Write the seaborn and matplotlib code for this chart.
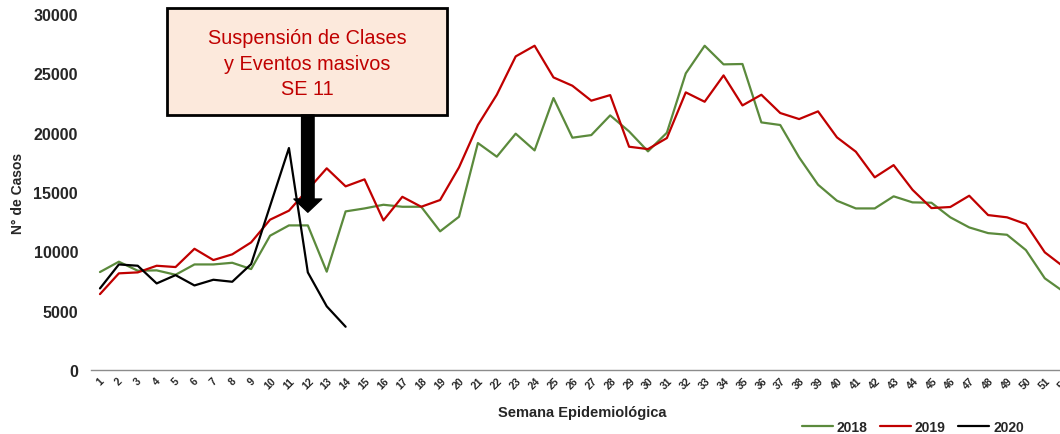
import numpy as np
import pandas as pd
import matplotlib
matplotlib.use("Agg")
import matplotlib.pyplot as plt
import seaborn as sns
from matplotlib.patches import Rectangle

weeks = list(range(1, 53))

cases_2018 = [8260, 9130, 8370, 8400, 8030, 8900, 8900, 9040, 8510, 11320,
              12190, 12190, 8290, 13370, 13620, 13930, 13760, 13760, 11690, 12920,
              19130, 17980, 19920, 18510, 22920, 19580, 19800, 21460, 20110, 18430,
              20000, 25000, 27330, 25760, 25790, 20870, 20650, 17920, 15620, 14270,
              13620, 13620, 14640, 14130, 14100, 12870, 12020, 11540, 11400, 10110,
              7730, 6600]
cases_2019 = [6400, 8150, 8230, 8790, 8680, 10220, 9270, 9750, 10760, 12670,
              13430, 15200, 17000, 15480, 16070, 12610, 14600, 13760, 14330, 17080,
              20650, 23200, 26430, 27330, 24660, 23960, 22700, 23170, 18820, 18620,
              19550, 23400, 22610, 24830, 22300, 23200, 21660, 21150, 21800, 19610,
              18400, 16240, 17270, 15190, 13650, 13740, 14690, 13060, 12870, 12300,
              9920, 8700]
cases_2020 = [6880, 8900, 8790, 7300, 8000, 7130, 7610, 7440, 8930, 13820,
              18710, 8230, 5370, 3650]

years = ["2018", "2019", "2020"]
colors = {"2018": "#5B8A3C", "2019": "#C00000", "2020": "#000000"}

annot_text = "Suspensión de Clases\ny Eventos masivos\nSE 11"
annot_week = 12
arrow_tip = 13300

frames = []
for yr, vals in zip(years, [cases_2018, cases_2019, cases_2020]):
    frames.append(pd.DataFrame({"semana": weeks[:len(vals)], "casos": vals, "anio": yr}))
df = pd.concat(frames, ignore_index=True)

sns.set_theme(style="white")
plt.rcParams["font.family"] = ["Liberation Sans", "DejaVu Sans"]

fig = plt.figure(figsize=(10.6, 4.35), dpi=100)
ax = fig.add_axes([0.0854, 0.147, 0.927, 0.8184])

sns.lineplot(data=df, x="semana", y="casos", hue="anio", palette=colors,
             linewidth=1.6, ax=ax, legend=False)

ax.set_xlim(0.5, 52.5)
ax.set_ylim(0, 30000)
ax.set_xticks(weeks)
ax.set_xticklabels([str(w) for w in weeks], rotation=45, fontsize=7.5, fontweight="bold")
ax.set_yticks(np.arange(0, 30001, 5000))
ax.set_yticklabels([str(v) for v in range(0, 30001, 5000)], fontsize=11.5, fontweight="bold")
ax.tick_params(axis="x", length=0, pad=4)
ax.tick_params(axis="y", length=0, pad=9)

for s in ["top", "right", "left"]:
    ax.spines[s].set_visible(False)
ax.spines["bottom"].set_color("#8c8c8c")
ax.spines["bottom"].set_linewidth(1)

ax.set_xlabel("Semana Epidemiológica", fontsize=10.5, fontweight="bold", labelpad=10)
ax.set_ylabel("N° de Casos", fontsize=10, fontweight="bold", labelpad=6)

# annotation box + arrow
box = Rectangle((4.54, 21490), 19.36 - 4.54, 30505 - 21490, facecolor="#FCE9DC",
                edgecolor="black", linewidth=2, clip_on=False, zorder=5)
ax.add_patch(box)
ax.text((4.54 + 19.36) / 2, 25870, annot_text, ha="center", va="center",
        color="#C00000", fontsize=14.3, linespacing=1.45, zorder=6, clip_on=False)
ax.annotate("", xy=(annot_week, arrow_tip), xytext=(annot_week, 21490),
            arrowprops=dict(width=9, headwidth=20, headlength=9.5, shrink=0,
                            facecolor="black", edgecolor="black"),
            zorder=6, annotation_clip=False)

handles = [plt.Line2D([], [], color=colors[y], linewidth=1.6) for y in years]
fig.legend(handles, years, loc="center", bbox_to_anchor=(913 / 1060, 1 - 428 / 435),
           ncol=3, frameon=False, handlelength=2.2, handletextpad=0.3,
           columnspacing=0.9, prop={"weight": "bold", "size": 10})

fig.savefig("out.png", dpi=100)
